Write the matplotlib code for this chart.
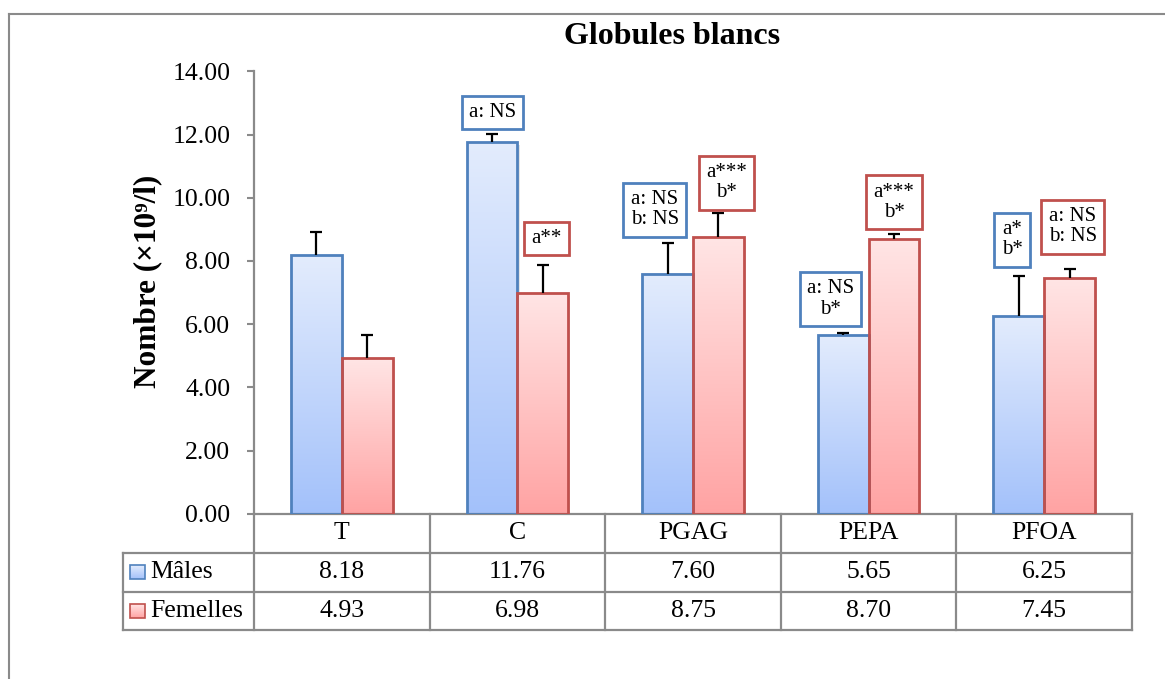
import numpy as np
import matplotlib
matplotlib.use("Agg")
import matplotlib.pyplot as plt
from matplotlib.colors import LinearSegmentedColormap
from matplotlib.lines import Line2D
from matplotlib.patches import Rectangle
import matplotlib.transforms as mtransforms

plt.rcParams['font.family'] = ['Liberation Serif', 'DejaVu Serif']

# donnees
groupes = ["T", "C", "PGAG", "PEPA", "PFOA"]
males = [8.18, 11.76, 7.60, 5.65, 6.25]
femelles = [4.93, 6.98, 8.75, 8.70, 7.45]
err_males = [0.73, 0.27, 0.96, 0.08, 1.28]
err_femelles = [0.73, 0.89, 0.76, 0.15, 0.28]
series = ["Mâles", "Femelles"]

# significativite (groupe, serie, texte)
notes_groupe = [1, 1, 2, 2, 3, 3, 4, 4]
notes_serie = [0, 1, 0, 1, 0, 1, 0, 1]
notes_texte = ["a: NS", "a**", "a: NS\nb: NS", "a***\nb*",
               "a: NS\nb*", "a***\nb*", "a*\nb*", "a: NS\nb: NS"]
# placement des etiquettes (decalage x, hauteur y)
notes_dx = [-0.142, 0.163, -0.218, 0.191, -0.217, 0.145, -0.183, 0.162]
notes_y = [12.70, 8.71, 9.62, 10.48, 6.79, 9.85, 8.67, 9.08]

W, H = 1165, 679
bleu_bord = "#4f81bd"
rouge_bord = "#c0504d"
gris = "#8a8a8a"
cmap_b = LinearSegmentedColormap.from_list("b", ["#a3c1fa", "#e3ecfd"])
cmap_r = LinearSegmentedColormap.from_list("r", ["#ffa3a3", "#ffe5e5"])
grad = np.linspace(0, 1, 256).reshape(-1, 1)

fig = plt.figure(figsize=(W / 100, H / 100), dpi=100)
ax = fig.add_axes([254 / W, 1 - 513.7 / H, (1132 - 254) / W, (513.7 - 71.3) / H])

x = np.arange(len(groupes))
bw = 0.289
for vals, errs, dx, cm, ec in [(males, err_males, -bw / 2, cmap_b, bleu_bord),
                               (femelles, err_femelles, bw / 2, cmap_r, rouge_bord)]:
    for xi, v in zip(x, vals):
        # ombre legere
        ax.add_patch(Rectangle((xi + dx - bw / 2 + 0.012, 0), bw, v - 0.08, fc="#000000",
                               alpha=0.10, lw=0, zorder=1))
        ax.imshow(grad, extent=(xi + dx - bw / 2, xi + dx + bw / 2, 0, v), origin="lower",
                  aspect="auto", cmap=cm, zorder=2, interpolation="bilinear")
    ax.bar(x + dx, vals, bw, facecolor="none", edgecolor=ec, linewidth=2, zorder=3)
    eb = ax.errorbar(x + dx, vals, yerr=[np.zeros(len(vals)), errs], fmt="none", ecolor="black",
                     elinewidth=1.6, capsize=4, capthick=1.6, zorder=4)
    eb[1][0].set_visible(False)  # pas de trait en bas

for g, s, t, dx, y in zip(notes_groupe, notes_serie, notes_texte, notes_dx, notes_y):
    ax.text(g + dx, y, t, ha="center", va="center", fontsize=15, linespacing=1.1, zorder=5,
            bbox=dict(boxstyle="square,pad=0.35", fc="white",
                      ec=bleu_bord if s == 0 else rouge_bord, lw=2))

ax.set_xlim(-0.5, 4.5)
ax.set_ylim(0, 14)
ax.set_yticks(np.arange(0, 14.1, 2))
ax.set_yticklabels(["%.2f" % v for v in np.arange(0, 14.1, 2)], fontsize=18.5)
ax.set_xticks([])
ax.tick_params(axis="y", length=5, width=1.5, color=gris, pad=12)
for sp in ["top", "right"]:
    ax.spines[sp].set_visible(False)
for sp in ["left", "bottom"]:
    ax.spines[sp].set_color(gris)
    ax.spines[sp].set_linewidth(1.6)

# tableau de donnees sous l'axe
tr = mtransforms.blended_transform_factory(ax.transData, ax.transAxes)
hpx = 513.7 - 71.3
r1 = -(552.7 - 513.7) / hpx
r2 = -(591.7 - 513.7) / hpx
r3 = -(630.0 - 513.7) / hpx
xg = (123.2 - 254) / 175.6 - 0.5
lk = dict(color=gris, lw=1.6, transform=tr, clip_on=False)
for yy in [r1, r2, r3]:
    ax.add_line(Line2D([xg, 4.5], [yy, yy], **lk))
for xx in np.arange(-0.5, 4.6, 1):
    ax.add_line(Line2D([xx, xx], [0, r3], **lk))
ax.add_line(Line2D([xg, xg], [r1, r3], **lk))

for i, g in enumerate(groupes):
    ax.text(i, r1 / 2, g, ha="center", va="center", fontsize=18.5, transform=tr)
    ax.text(i, (r1 + r2) / 2, "%.2f" % males[i], ha="center", va="center", fontsize=18.5, transform=tr)
    ax.text(i, (r2 + r3) / 2, "%.2f" % femelles[i], ha="center", va="center", fontsize=18.5, transform=tr)

sw = 15 / 175.6
sh = 14 / hpx
for k, (nom, cm, ec) in enumerate([(series[0], cmap_b, bleu_bord), (series[1], cmap_r, rouge_bord)]):
    yc = (r1 + r2) / 2 if k == 0 else (r2 + r3) / 2
    x0 = (130 - 254) / 175.6 - 0.5
    ax.imshow(grad, extent=(x0, x0 + sw, yc - sh / 2, yc + sh / 2), origin="lower", aspect="auto",
              cmap=cm, transform=tr, clip_on=False, zorder=2)
    ax.add_patch(Rectangle((x0, yc - sh / 2), sw, sh, transform=tr, fc="none", ec=ec, lw=1.2,
                           clip_on=False, zorder=3))
    ax.text(x0 + sw + 0.03, yc, nom, ha="left", va="center", fontsize=18.5, transform=tr)

ax.set_xlim(-0.5, 4.5)
ax.set_ylim(0, 14)

fig.text(672.5 / W, 1 - 36 / H, "Globules blancs", ha="center", va="center", fontsize=23,
         fontweight="bold")
fig.text(148 / W, 1 - 281.5 / H, "Nombre (×10⁹/l)", ha="center", va="center", fontsize=22.5,
         fontweight="bold", rotation=90)

# cadre
fig.add_artist(Line2D([9.3 / W, 1], [1 - 13.5 / H, 1 - 13.5 / H], color=gris, lw=1.5))
fig.add_artist(Line2D([9.3 / W, 9.3 / W], [0, 1 - 13.5 / H], color=gris, lw=1.5))

fig.savefig("out.png", dpi=100)
